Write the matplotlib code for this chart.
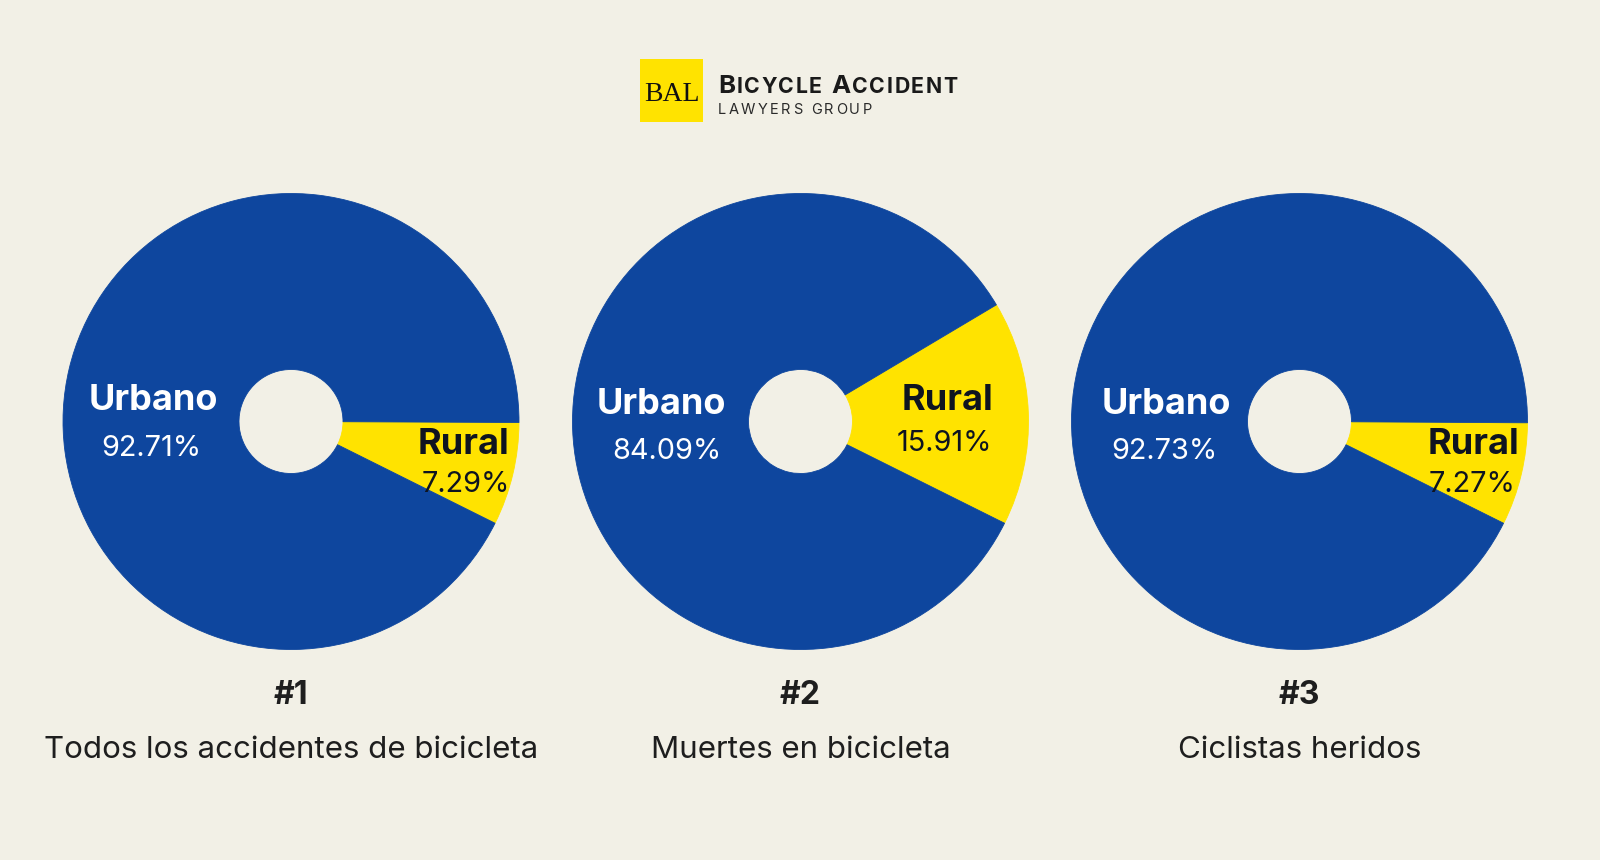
import matplotlib
matplotlib.use('Agg')
import matplotlib.pyplot as plt

# ---------------- data ----------------
categories = ['Rural', 'Urbano']
rural_pct = [7.29, 15.91, 7.27]
urbano_pct = [92.71, 84.09, 92.73]
chart_numbers = ['#1', '#2', '#3']
chart_titles = ['Todos los accidentes de bicicleta', 'Muertes en bicicleta', 'Ciclistas heridos']
brand_title = 'BICYCLE ACCIDENT'
brand_subtitle = 'LAWYERS GROUP'

# ---------------- style / layout ----------------
W, H = 1600, 860
BG = '#F2F0E6'
BLUE = '#0E469E'
YELLOW = '#FFE300'
DARK = '#1E1E1E'
RURAL_TXT = '#0E1420'
FONT = 'Inter'

centers_x = [291, 800.5, 1299.5]
center_y = 421.5
R = 228
HOLE = 52
START = -26.5
# label offsets (image coords: dx, dy) for [urbano name, urbano pct, rural name, rural pct]
label_off = [
    [(-138, -21), (-140, 27), (172, 23), (175, 63)],
    [(-139, -17), (-134, 30), (147, -21), (144, 22)],
    [(-133, -17), (-135, 30), (174, 23), (173, 63)],
]

fig = plt.figure(figsize=(W / 100, H / 100), dpi=100)
fig.patch.set_facecolor(BG)
ax = fig.add_axes([0, 0, 1, 1])
ax.set_facecolor(BG)


def Y(y):
    return H - y


for i in range(3):
    cx, cy = centers_x[i], Y(center_y)
    wedges, _ = ax.pie([rural_pct[i], urbano_pct[i]], colors=[YELLOW, BLUE],
                       startangle=START, counterclock=True,
                       center=(cx, cy), radius=R,
                       wedgeprops=dict(width=R - HOLE, linewidth=0.6, antialiased=True))
    for w, c in zip(wedges, [YELLOW, BLUE]):
        w.set_edgecolor(c)
    off = label_off[i]
    ax.text(cx + off[0][0], Y(center_y + off[0][1]), categories[1], color='white',
            fontsize=26, fontweight='bold', family=FONT, ha='center', va='center')
    ax.text(cx + off[1][0], Y(center_y + off[1][1]), f'{urbano_pct[i]:.2f}%', color='white',
            fontsize=20.8, family=FONT, ha='center', va='center')
    ax.text(cx + off[2][0], Y(center_y + off[2][1]), categories[0], color=RURAL_TXT,
            fontsize=26, fontweight='bold', family=FONT, ha='center', va='center')
    ax.text(cx + off[3][0], Y(center_y + off[3][1]), f'{rural_pct[i]:.2f}%', color=RURAL_TXT,
            fontsize=20.8, family=FONT, ha='center', va='center')
    ax.text(cx, Y(696), chart_numbers[i], color=DARK, fontsize=23, fontweight='bold',
            family=FONT, ha='center', va='center')
    ax.text(cx, Y(750), chart_titles[i], color=DARK, fontsize=22.5,
            family=FONT, ha='center', va='center')

ax.set_xlim(0, W)
ax.set_ylim(0, H)
ax.set_aspect('auto')
ax.axis('off')

# ---------------- logo ----------------
ax.add_patch(plt.Rectangle((640, Y(122)), 63, 63, facecolor=YELLOW, edgecolor='none'))
ax.text(671.5, Y(101), 'BAL', family='Liberation Serif', fontsize=20, color='#111',
        ha='center', va='baseline')

fig.canvas.draw()
renderer = fig.canvas.get_renderer()

# small-caps brand title, drawn letter by letter
x = 718
for word_i, word in enumerate(brand_title.split(' ')):
    for k, ch in enumerate(word):
        fs = 18.5 if k == 0 else 15.3
        t = ax.text(x, Y(93), ch, family=FONT, fontsize=fs, fontweight='bold',
                    color='#1A1A1A', ha='left', va='baseline')
        x += t.get_window_extent(renderer).width + 1.5
    if word_i == 0:
        x += 8

# letter-spaced subtitle
x = 718
for ch in brand_subtitle:
    t = ax.text(x, Y(114), ch, family=FONT, fontsize=10.5, color='#2A2A2A',
                ha='left', va='baseline')
    if ch == ' ':
        x += 6
    else:
        x += t.get_window_extent(renderer).width + 2.4

fig.savefig('out.png', dpi=100, facecolor=BG)
